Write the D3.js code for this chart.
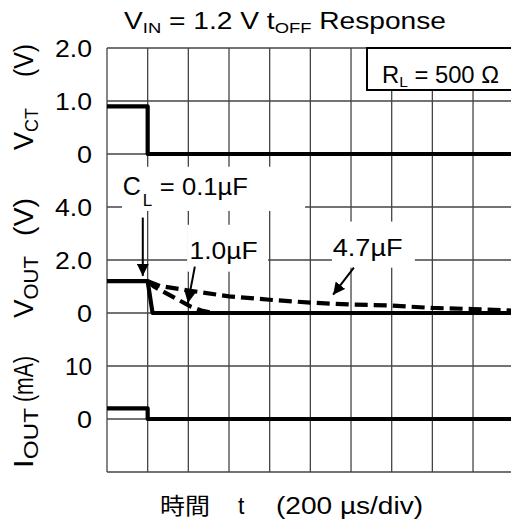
<!DOCTYPE html>
<html>
<head>
<meta charset="utf-8">
<script src="https://cdn.jsdelivr.net/npm/d3@7"></script>
<style>
body{margin:0;background:#fff;}
text{font-family:"Liberation Sans",Arial,sans-serif;fill:#000;}
</style>
</head>
<body>
<div id="chart"></div>
<script>
var W = 511, H = 522;
var left = 107, top0 = 48, colW = 40.67, rowH = 53;

// ---- data (time in divisions of 200 us) ----
var divs = d3.range(0, 11);
var rows = d3.range(0, 9);

var vctT = [0, 1, 1, 10],          vctV = [0.9, 0.9, 0, 0];
var out01T = [0, 1, 1.12, 10],     out01V = [1.2, 1.2, 0, 0];
var out10T = [1, 1.15, 1.45, 1.75, 2.05, 2.35, 2.6];
var out10V = [1.2, 1.0, 0.75, 0.5, 0.25, 0.08, 0];
var out47T = [1, 1.3, 2, 3, 4, 5, 6, 7, 8, 9, 10];
var out47V = [1.2, 1.02, 0.85, 0.63, 0.5, 0.39, 0.32, 0.28, 0.19, 0.15, 0.09];
var ioutT = [0, 1, 1, 10],         ioutV = [2, 2, 0, 0];

var ctTicks = [2, 1, 0],   ctLabels = ["2.0", "1.0", "0"];
var outTicks = [4, 2, 0],  outLabels = ["4.0", "2.0", "0"];
var iTicks = [10, 0],      iLabels = ["10", "0"];

// ---- scales ----
var x = d3.scaleLinear().domain([0, 10]).range([left, left + 10 * colW]);
var yCT = d3.scaleLinear().domain([0, 2]).range([top0 + 2 * rowH, top0]);
var yOUT = d3.scaleLinear().domain([0, 4]).range([top0 + 5 * rowH, top0 + 3 * rowH]);
var yI = d3.scaleLinear().domain([-10, 10]).range([top0 + 8 * rowH, top0 + 6 * rowH]);

var svg = d3.select('#chart').append('svg')
	.attr('width', W)
	.attr('height', H)
	.style('background', '#fff');

// ---- grid ----
svg.selectAll('.vgrid').data(divs).enter().append('line')
	.attr('x1', d => x(d)).attr('x2', d => x(d))
	.attr('y1', top0).attr('y2', top0 + 8 * rowH)
	.style('stroke', '#444').style('stroke-width', 1.3);
svg.selectAll('.hgrid').data(rows).enter().append('line')
	.attr('x1', left).attr('x2', x(10))
	.attr('y1', d => top0 + d * rowH).attr('y2', d => top0 + d * rowH)
	.style('stroke', '#444').style('stroke-width', 1.3);

// white label backgrounds hiding the grid (data coords)
var boxes = [
	{t0: 0.37, t1: 4.87, v0: 5.52, v1: 3.85},
	{t0: 1.97, t1: 3.96, v0: 3.33, v1: 1.56},
	{t0: 5.53, t1: 7.57, v0: 3.45, v1: 1.71}
];
svg.selectAll('.lbox').data(boxes).enter().append('rect')
	.attr('x', d => x(d.t0)).attr('width', d => x(d.t1) - x(d.t0))
	.attr('y', d => yOUT(d.v0)).attr('height', d => yOUT(d.v1) - yOUT(d.v0))
	.style('fill', '#fff');

// R_L box
svg.append('rect')
	.attr('x', 367).attr('y', top0)
	.attr('width', 160).attr('height', 42)
	.style('fill', '#fff').style('stroke', '#000').style('stroke-width', 2);

// ---- traces ----
function trace(ts, vs, y, dash) {
	var line = d3.line().x(d => x(d[0])).y(d => y(d[1]));
	var p = svg.append('path')
		.attr('d', line(d3.zip(ts, vs)))
		.style('fill', 'none').style('stroke', '#000')
		.style('stroke-width', 4.2)
		.style('stroke-linejoin', 'round');
	if (dash) p.style('stroke-dasharray', '13,6');
	return p;
}
trace(vctT, vctV, yCT);
trace(out47T, out47V, yOUT, true);
trace(out10T, out10V, yOUT, true);
trace(out01T, out01V, yOUT);
trace(ioutT, ioutV, yI);

// ---- tick labels ----
function ticks(vals, labels, y) {
	svg.selectAll(null).data(vals).enter().append('text')
		.attr('x', 92).attr('y', d => y(d) + 8.5)
		.attr('text-anchor', 'end')
		.style('font-size', '24px')
		.attr('textLength', (d, i) => labels[i].length == 3 ? 37 : labels[i].length == 2 ? 27 : 15)
		.attr('lengthAdjust', 'spacingAndGlyphs')
		.text((d, i) => labels[i]);
}
ticks(ctTicks, ctLabels, yCT);
ticks(outTicks, outLabels, yOUT);
ticks(iTicks, iLabels, yI);

// ---- axis titles (rotated) ----
function vtitle(main, sub, subSize, unit, xb, yMain, lenMain, yUnit, lenUnit) {
	var t = svg.append('text')
		.attr('transform', 'translate(' + xb + ',' + yMain + ') rotate(-90)')
		.attr('textLength', lenMain).attr('lengthAdjust', 'spacingAndGlyphs')
		.style('font-size', '27px');
	t.append('tspan').text(main);
	t.append('tspan').attr('dy', 5).style('font-size', subSize + 'px').text(sub);
	svg.append('text')
		.attr('transform', 'translate(' + xb + ',' + yUnit + ') rotate(-90)')
		.attr('textLength', lenUnit).attr('lengthAdjust', 'spacingAndGlyphs')
		.style('font-size', '27px')
		.text(unit);
}
vtitle('V', 'CT', 18, '(V)', 33, 150, 42, 77, 33);
vtitle('V', 'OUT', 20, '(V)', 33, 318, 62, 236, 38);
vtitle('I', 'OUT', 21, '(mA)', 33, 468, 60, 402, 46);

// ---- title ----
var title = svg.append('text')
	.attr('x', 124).attr('y', 29)
	.attr('textLength', 322).attr('lengthAdjust', 'spacingAndGlyphs')
	.style('font-size', '23px');
title.append('tspan').text('V');
title.append('tspan').attr('dy', 4).style('font-size', '15px').text('IN');
title.append('tspan').attr('dy', -4).text(' = 1.2 V t');
title.append('tspan').attr('dy', 4).style('font-size', '15px').text('OFF');
title.append('tspan').attr('dy', -4).text(' Response');

// ---- R_L ----
var rl = svg.append('text')
	.attr('x', 382).attr('y', 83)
	.attr('textLength', 117).attr('lengthAdjust', 'spacingAndGlyphs')
	.style('font-size', '23px');
rl.append('tspan').text('R');
rl.append('tspan').attr('dy', 4).style('font-size', '15px').text('L');
rl.append('tspan').attr('dy', -4).text(' = 500 \u03A9');

// ---- x label ----
svg.append('text').attr('x', 160).attr('y', 514)
	.attr('textLength', 50).attr('lengthAdjust', 'spacingAndGlyphs')
	.style('font-family', '"Noto Sans CJK JP"').style('font-size', '23px')
	.text('時間');
svg.append('text').attr('x', 238).attr('y', 514)
	.style('font-size', '23px').text('t');
svg.append('text').attr('x', 276).attr('y', 514)
	.attr('textLength', 147).attr('lengthAdjust', 'spacingAndGlyphs')
	.style('font-size', '23px').text('(200 \u00B5s/div)');

// ---- annotations ----
svg.append('text').attr('x', x(0.39)).attr('y', yOUT(4.45))
	.style('font-size', '25px').text('C');
svg.append('text').attr('x', x(0.88)).attr('y', yOUT(4.05))
	.style('font-size', '17px').text('L');
svg.append('text').attr('x', x(1.3)).attr('y', yOUT(4.45))
	.attr('textLength', 88).attr('lengthAdjust', 'spacingAndGlyphs')
	.style('font-size', '24px').text('= 0.1\u00B5F');
svg.append('text').attr('x', x(2.03)).attr('y', yOUT(2.05))
	.attr('textLength', 68).attr('lengthAdjust', 'spacingAndGlyphs')
	.style('font-size', '24px').text('1.0\u00B5F');
svg.append('text').attr('x', x(5.55)).attr('y', yOUT(2.15))
	.attr('textLength', 70).attr('lengthAdjust', 'spacingAndGlyphs')
	.style('font-size', '24px').text('4.7\u00B5F');

svg.append('defs').append('marker')
	.attr('id', 'ah').attr('viewBox', '0 0 10 10')
	.attr('refX', 10).attr('refY', 5)
	.attr('markerWidth', 6).attr('markerHeight', 6)
	.attr('orient', 'auto')
	.append('path').attr('d', 'M0,0L10,5L0,10z').style('fill', '#000');

var arrows = [
	{t0: 0.88, v0: 3.6, t1: 0.88, v1: 1.4},
	{t0: 2.16, v0: 1.75, t1: 1.99, v1: 0.38},
	{t0: 6.07, v0: 1.71, t1: 5.56, v1: 0.69}
];
svg.selectAll('.arrow').data(arrows).enter().append('line')
	.attr('x1', d => x(d.t0)).attr('y1', d => yOUT(d.v0))
	.attr('x2', d => x(d.t1)).attr('y2', d => yOUT(d.v1))
	.style('stroke', '#000').style('stroke-width', 2)
	.attr('marker-end', 'url(#ah)');
</script>
</body>
</html>
